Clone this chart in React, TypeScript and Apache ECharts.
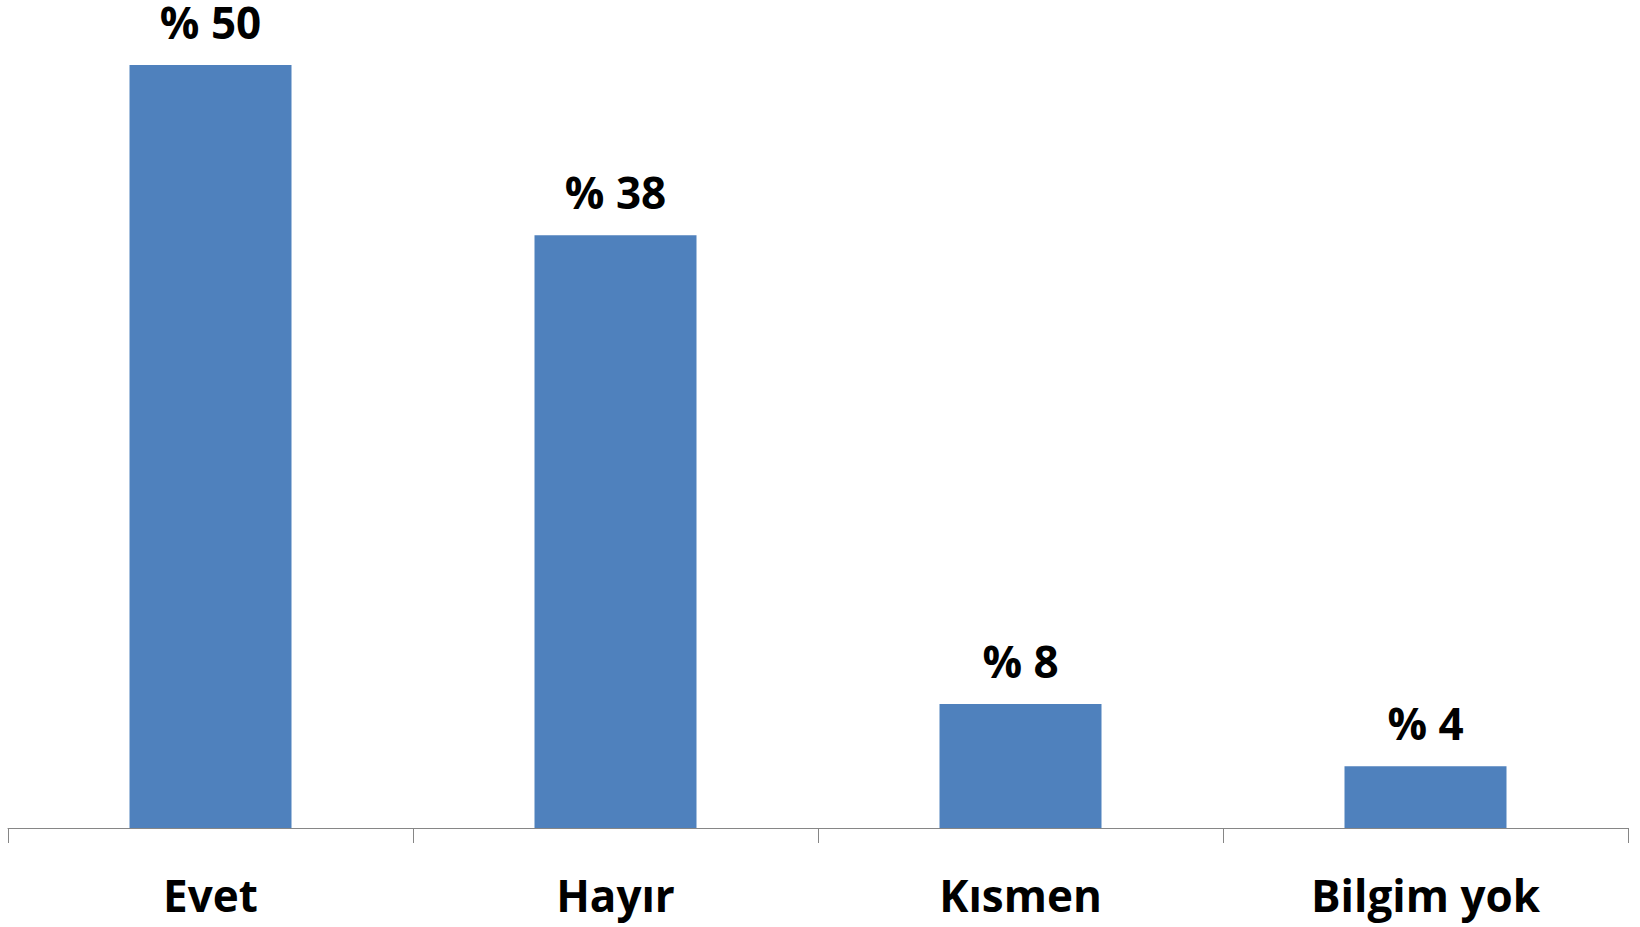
import React, { useEffect, useRef } from "react";
import * as echarts from "echarts";

const categories = ["Evet", "Hayır", "Kısmen", "Bilgim yok"];
const values = [49.5, 38.45, 8.05, 4.0];

export default function App() {
  const ref = useRef<HTMLDivElement>(null);
  useEffect(() => {
    document.body.style.margin = "0";
    const chart = echarts.init(ref.current!, null, { renderer: "svg" });
    chart.setOption({
      animation: false,
      backgroundColor: "#ffffff",
      grid: { left: 8, right: 12, top: 65, bottom: 99, containLabel: false },
      xAxis: {
        type: "category",
        data: categories,
        axisLine: { show: true, lineStyle: { color: "#868686", width: 1 } },
        axisTick: { show: true, length: 15, lineStyle: { color: "#868686", width: 1 } },
        axisLabel: {
          margin: 45,
          color: "#000000",
          fontFamily: "Open Sans",
          fontWeight: "bold",
          fontSize: 44,
          lineHeight: 44,
          interval: 0,
        },
      },
      yAxis: {
        type: "value",
        min: 0,
        max: "dataMax",
        show: false,
        splitLine: { show: false },
      },
      series: [
        {
          type: "bar",
          data: values,
          barWidth: "40%",
          itemStyle: { color: "#4F81BD" },
          label: {
            show: true,
            position: "top",
            distance: 23,
            color: "#000000",
            fontFamily: "Open Sans",
            fontWeight: "bold",
            fontSize: 44,
            lineHeight: 40,
            formatter: (p: any) => "% " + Math.round(p.value),
          },
        },
      ],
    });
    return () => chart.dispose();
  }, []);
  return <div ref={ref} style={{ width: 1640, height: 927 }} />;
}
